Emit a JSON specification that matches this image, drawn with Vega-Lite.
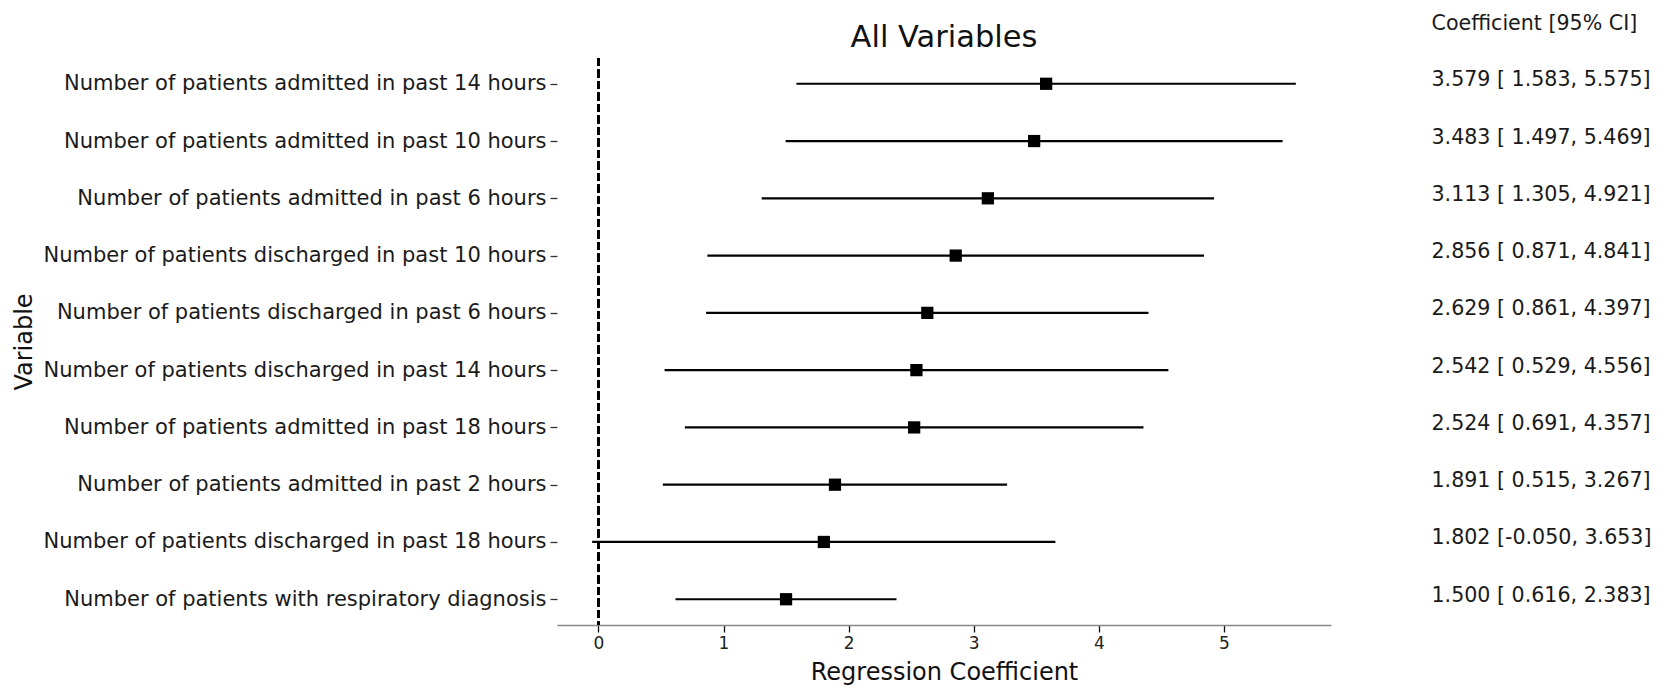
{
  "$schema": "https://vega.github.io/schema/vega-lite/v6.json",
  "width": 774,
  "height": 567,
  "autosize": {"type": "none"},
  "padding": {"left": 557, "top": 58, "right": 331, "bottom": 62},
  "background": "white",
  "config": {
    "font": "DejaVu Sans",
    "view": {"stroke": null}
  },
  "title": {
    "text": "All Variables",
    "frame": "group",
    "fontSize": 30.5,
    "fontWeight": "normal",
    "color": "#111111",
    "anchor": "middle",
    "baseline": "alphabetic",
    "offset": -34,
    "dy": 30
  },
  "data": {
    "values": [
      {"variable": "Number of patients admitted in past 14 hours", "coef": 3.579, "lo": 1.583, "hi": 5.575, "ci": "3.579 [ 1.583, 5.575]"},
      {"variable": "Number of patients admitted in past 10 hours", "coef": 3.483, "lo": 1.497, "hi": 5.469, "ci": "3.483 [ 1.497, 5.469]"},
      {"variable": "Number of patients admitted in past 6 hours", "coef": 3.113, "lo": 1.305, "hi": 4.921, "ci": "3.113 [ 1.305, 4.921]"},
      {"variable": "Number of patients discharged in past 10 hours", "coef": 2.856, "lo": 0.871, "hi": 4.841, "ci": "2.856 [ 0.871, 4.841]"},
      {"variable": "Number of patients discharged in past 6 hours", "coef": 2.629, "lo": 0.861, "hi": 4.397, "ci": "2.629 [ 0.861, 4.397]"},
      {"variable": "Number of patients discharged in past 14 hours", "coef": 2.542, "lo": 0.529, "hi": 4.556, "ci": "2.542 [ 0.529, 4.556]"},
      {"variable": "Number of patients admitted in past 18 hours", "coef": 2.524, "lo": 0.691, "hi": 4.357, "ci": "2.524 [ 0.691, 4.357]"},
      {"variable": "Number of patients admitted in past 2 hours", "coef": 1.891, "lo": 0.515, "hi": 3.267, "ci": "1.891 [ 0.515, 3.267]"},
      {"variable": "Number of patients discharged in past 18 hours", "coef": 1.802, "lo": -0.05, "hi": 3.653, "ci": "1.802 [-0.050, 3.653]"},
      {"variable": "Number of patients with respiratory diagnosis", "coef": 1.5, "lo": 0.616, "hi": 2.383, "ci": "1.500 [ 0.616, 2.383]"}
    ]
  },
  "layer": [
    {
      "mark": {"type": "rule", "color": "black", "strokeWidth": 2, "strokeDash": [8, 3.5]},
      "encoding": {
        "x": {
          "datum": 0,
          "type": "quantitative",
          "scale": {"domain": [-0.331, 5.856], "nice": false, "zero": false},
          "axis": {
            "title": "Regression Coefficient",
            "values": [0, 1, 2, 3, 4, 5],
            "format": "d",
            "grid": false,
            "domainColor": "#888888",
            "domainWidth": 1.5,
            "tickColor": "#111111",
            "tickSize": 7,
            "tickWidth": 1.3,
            "labelFontSize": 17,
            "labelColor": "#222222",
            "labelPadding": 3,
            "titleFontSize": 24,
            "titleFontWeight": "normal",
            "titleColor": "#111111",
            "titleX": 387,
            "titleY": 54,
            "titleAlign": "center",
            "titleBaseline": "alphabetic"
          }
        }
      }
    },
    {
      "mark": {"type": "rule", "color": "black", "strokeWidth": 2.2},
      "encoding": {
        "y": {
          "field": "variable",
          "type": "nominal",
          "sort": null,
          "scale": {"type": "point", "padding": 0.45},
          "axis": {
            "title": "Variable",
            "domain": false,
            "grid": false,
            "tickSize": 7,
            "tickColor": "#333333",
            "tickWidth": 1.3,
            "labelFontSize": 21,
            "labelColor": "#1a1a1a",
            "labelPadding": 4,
            "labelLimit": 1000,
            "titleFontSize": 24,
            "titleFontWeight": "normal",
            "titleColor": "#111111",
            "titleAngle": 270,
            "titleX": -533,
            "titleY": 283.5,
            "titleAlign": "center",
            "titleBaseline": "middle"
          }
        },
        "x": {"field": "lo", "type": "quantitative", "title": "Regression Coefficient", "scale": {"domain": [-0.331, 5.856], "nice": false, "zero": false}},
        "x2": {"field": "hi"}
      }
    },
    {
      "mark": {"type": "point", "shape": "square", "filled": true, "size": 150, "color": "black", "opacity": 1},
      "encoding": {
        "x": {"field": "coef", "type": "quantitative", "title": "Regression Coefficient", "scale": {"domain": [-0.331, 5.856], "nice": false, "zero": false}},
        "y": {
          "field": "ci",
          "type": "nominal",
          "sort": null,
          "scale": {"type": "point", "padding": 0.45},
          "axis": {
            "orient": "right",
            "title": "Coefficient [95% CI]",
            "domain": false,
            "ticks": false,
            "grid": false,
            "labelPadding": 100,
            "labelAlign": "left",
            "labelFontSize": 20.6,
            "labelColor": "#1a1a1a",
            "labelOffset": -4,
            "labelLimit": 1000,
            "titleAngle": 0,
            "titleX": 100,
            "titleY": -29,
            "titleAlign": "left",
            "titleBaseline": "alphabetic",
            "titleFontSize": 20.6,
            "titleFontWeight": "normal",
            "titleColor": "#1a1a1a"
          }
        }
      }
    }
  ],
  "resolve": {"scale": {"y": "independent"}}
}
